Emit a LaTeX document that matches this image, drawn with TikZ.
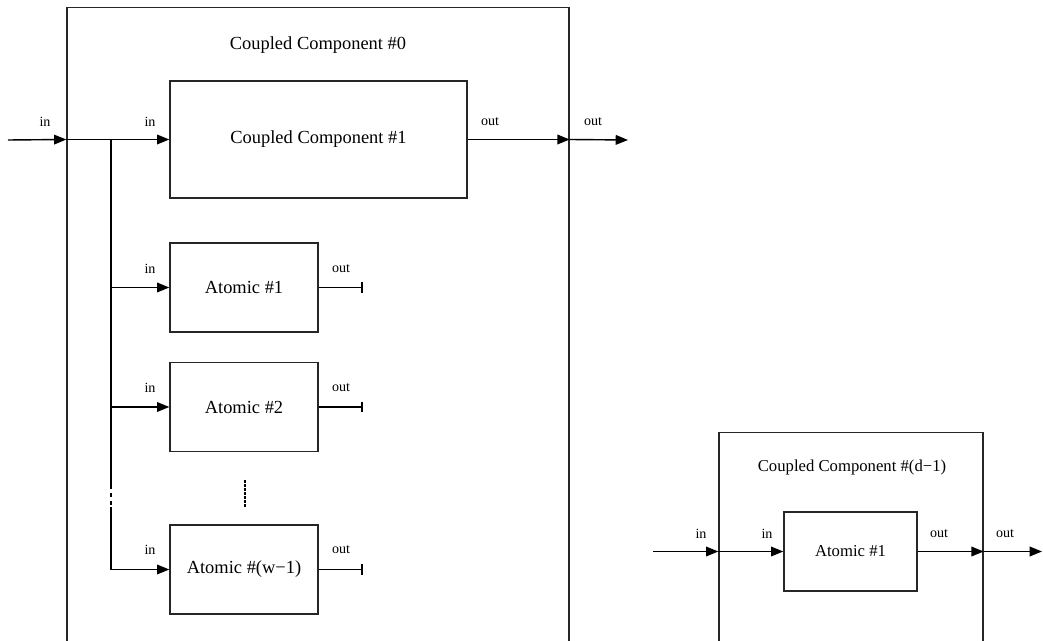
\documentclass[tikz,border=0pt]{standalone}
\usepackage{fontspec}
\setmainfont{Liberation Serif}
\usetikzlibrary{arrows.meta}

\begin{document}
\begin{tikzpicture}[
  x=0.02cm, y=-0.02cm,
  every node/.style={font=\fontsize{10.5}{12}\selectfont},
  box/.style={draw=black!85, line width=0.8pt, inner sep=0pt},
  atom/.style={box, minimum width=2.96cm, minimum height=1.78cm},
  port/.style={font=\fontsize{8}{9}\selectfont, inner sep=0pt},
  small/.style={font=\fontsize{9.5}{11}\selectfont},
  wire/.style={line width=0.8pt},
  arr/.style={wire, -{Triangle[length=7pt,width=5.5pt]}},
  stub/.style={wire, -{Bar[width=6pt]}},
]

\clip (0,0) rectangle (1043,641);

% coupled component #0
\node[box, minimum width=10.04cm, minimum height=13.6cm, anchor=north] (c0) at (318,7) {};
\node (c0title) at (318,45) {Coupled Component \#0};
\node[box, minimum width=5.94cm, minimum height=2.34cm] (c1) at (318.5,139.5) {Coupled Component \#1};
\node[atom] (a1) at (244,287.5) {Atomic \#1};
\node[atom] (a2) at (244,407) {Atomic \#2};
\node[atom] (aw) at (244,569.5) {Atomic \#(w−1)};

\coordinate (c0in) at (8,140);
\coordinate (c0out) at (628,140);
\coordinate (split) at (111,140);
\coordinate (gapA) at (111,485);
\coordinate (gapB) at (111,507);
\coordinate (dotsA) at (245,480);
\coordinate (dotsB) at (245,508);

\draw[arr] (c0in) -- (c0.west |- c1.west);
\draw[arr] (c0.west |- c1.west) -- (c1.west);
\draw[arr] (c1.east) -- (c0.east |- c1.east);
\draw[arr] (c0.east |- c1.east) -- (c0out);
\draw[wire] (split) -- (gapA);
\draw[wire, dash pattern=on 2.5pt off 2pt] (gapA) -- (gapB);
\draw[arr] (gapB) |- (aw.west);
\foreach \n in {a1,a2} \draw[arr] (split |- \n.west) -- (\n.west);
\foreach \n in {a1,a2,aw} \draw[stub] (\n.east) -- ++(44,0);
\draw[line width=1pt, dash pattern=on 1.5pt off 0.8pt] (dotsA) -- (dotsB);

\node[port] (c0inL) at (45,122) {in};
\node[port] (c1inL) at (150,122) {in};
\node[port] (c1outL) at (490,122) {out};
\node[port] (c0outL) at (593,122) {out};
\node[port] (a1inL) at (150,269) {in};
\node[port] (a1outL) at (341,269) {out};
\node[port] (a2inL) at (150,388) {in};
\node[port] (a2outL) at (341,388) {out};
\node[port] (awinL) at (150,550) {in};
\node[port] (awoutL) at (341,550) {out};

% coupled component #(d-1)
\node[box, minimum width=5.28cm, minimum height=5cm, anchor=north] (cd) at (851,432) {};
\node[small] (cdtitle) at (852,467) {Coupled Component \#(d−1)};
\node[box, small, minimum width=2.66cm, minimum height=1.58cm] (da) at (850.5,551.5) {Atomic \#1};

\coordinate (cdin) at (653,551.5);
\coordinate (cdout) at (1042,551.5);

\draw[arr] (cdin) -- (cd.west |- da.west);
\draw[arr] (cd.west |- da.west) -- (da.west);
\draw[arr] (da.east) -- (cd.east |- da.east);
\draw[arr] (cd.east |- da.east) -- (cdout);

\node[port] (cdinL) at (701,534) {in};
\node[port] (dainL) at (767,534) {in};
\node[port] (daoutL) at (939,534) {out};
\node[port] (cdoutL) at (1005,534) {out};

\end{tikzpicture}
\end{document}
